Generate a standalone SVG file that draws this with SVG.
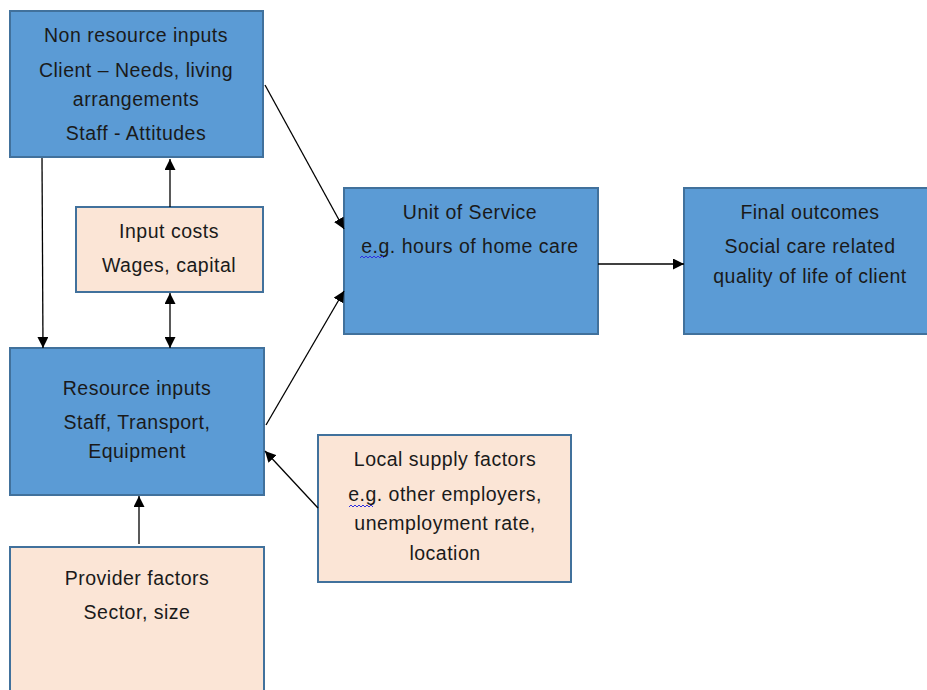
<svg xmlns="http://www.w3.org/2000/svg" width="927" height="690" viewBox="0 0 927 690">
<defs>
<marker id="ah" viewBox="0 0 10 10" refX="10" refY="5" markerWidth="11" markerHeight="11" markerUnits="userSpaceOnUse" orient="auto-start-reverse">
<path d="M0,0 L10,5 L0,10 z" fill="#000"/>
</marker>
<style>
.blue{fill:#5B9BD5;stroke:#41719C;stroke-width:2}
.peach{fill:#FBE5D6;stroke:#41719C;stroke-width:2}
text{font-family:"Liberation Sans","DejaVu Sans",sans-serif;font-size:19.5px;letter-spacing:0.5px;fill:#1a1a1a;text-anchor:middle}
.conn line{stroke:#000;stroke-width:1.3;marker-end:url(#ah)}
.sq{fill:none;stroke:#3030e0;stroke-width:1}
</style>
</defs>
<rect width="927" height="690" fill="#fff"/>
<g id="non-resource-inputs">
<rect class="blue" x="10" y="11" width="253" height="146"/>
<text x="136" y="42">Non resource inputs</text>
<text x="136" y="77">Client – Needs, living</text>
<text x="136" y="106">arrangements</text>
<text x="136" y="140">Staff - Attitudes</text>
</g>
<g id="input-costs">
<rect class="peach" x="76" y="207" width="187" height="85"/>
<text x="169" y="238">Input costs</text>
<text x="169" y="272">Wages, capital</text>
</g>
<g id="unit-of-service">
<rect class="blue" x="344" y="188" width="254" height="146"/>
<text x="470" y="219">Unit of Service</text>
<text x="470" y="253">e.g. hours of home care</text>
<path class="sq" d="M360,258 l2,-2 l2,2 l2,-2 l2,2 l2,-2 l2,2 l2,-2 l2,2 l2,-2 l2,2 l2,-2 l2,2"/>
</g>
<g id="final-outcomes">
<rect class="blue" x="684" y="188" width="250" height="146"/>
<text x="810" y="219">Final outcomes</text>
<text x="810" y="253">Social care related</text>
<text x="810" y="283">quality of life of client</text>
</g>
<g id="resource-inputs">
<rect class="blue" x="10" y="348" width="254" height="147"/>
<text x="137" y="395">Resource inputs</text>
<text x="137" y="429">Staff, Transport,</text>
<text x="137" y="458">Equipment</text>
</g>
<g id="local-supply-factors">
<rect class="peach" x="318" y="435" width="253" height="147"/>
<text x="445" y="466">Local supply factors</text>
<text x="445" y="501">e.g. other employers,</text>
<text x="445" y="530">unemployment rate,</text>
<text x="445" y="560">location</text>
<path class="sq" d="M349,507 l2,-2 l2,2 l2,-2 l2,2 l2,-2 l2,2 l2,-2 l2,2 l2,-2 l2,2 l2,-2 l2,2"/>
</g>
<g id="provider-factors">
<rect class="peach" x="10" y="547" width="254" height="150"/>
<text x="137" y="585">Provider factors</text>
<text x="137" y="619">Sector, size</text>
</g>
<g id="connectors" class="conn">
<line x1="42" y1="158" x2="43" y2="348"/>
<line x1="170" y1="207" x2="170" y2="159"/>
<line x1="170" y1="293" x2="170" y2="348" style="marker-start:url(#ah)"/>
<line x1="265" y1="85" x2="344" y2="229"/>
<line x1="266" y1="425" x2="344" y2="291"/>
<line x1="598" y1="264" x2="684" y2="264"/>
<line x1="139" y1="544" x2="139" y2="496"/>
<line x1="318" y1="508" x2="265" y2="451"/>
</g>
</svg>
